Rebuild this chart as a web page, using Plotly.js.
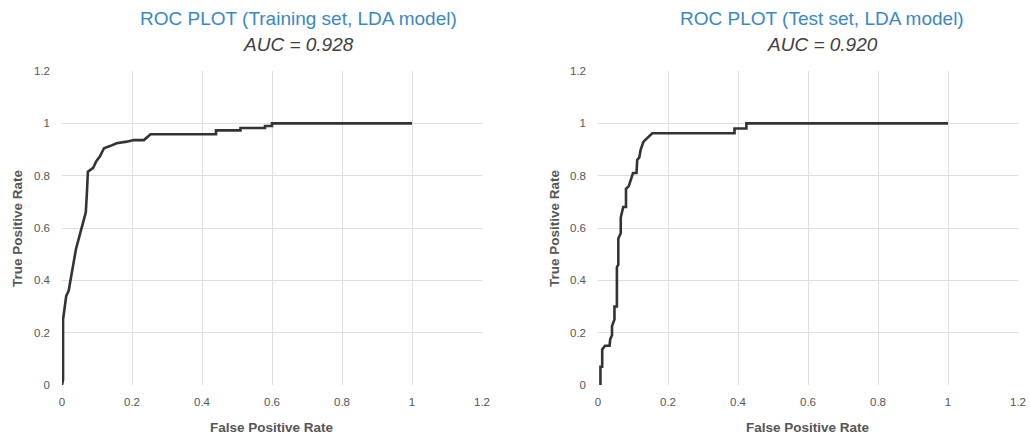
<!DOCTYPE html>
<html>
<head>
<meta charset="utf-8">
<script src="https://cdn.plot.ly/plotly-3.0.1.min.js"></script>
<style>html,body{margin:0;padding:0;background:#fff;}#chart{width:1030px;height:434px;}</style>
</head>
<body>
<div id="chart"></div>
<script>
// Training set ROC (LDA model)
const trainFPR = [0, 0.003, 0.003, 0.012, 0.019, 0.026, 0.033, 0.04, 0.05, 0.06, 0.068, 0.071, 0.074, 0.089, 0.098, 0.108, 0.12, 0.137, 0.156, 0.185, 0.205, 0.234, 0.253, 0.44, 0.44, 0.51, 0.51, 0.58, 0.58, 0.60, 0.60, 1.0];
const trainTPR = [0, 0.02, 0.25, 0.34, 0.36, 0.415, 0.47, 0.52, 0.57, 0.62, 0.66, 0.73, 0.815, 0.83, 0.855, 0.873, 0.905, 0.913, 0.924, 0.93, 0.936, 0.936, 0.958, 0.958, 0.973, 0.973, 0.982, 0.982, 0.99, 0.99, 1.0, 1.0];
// Test set ROC (LDA model)
const testFPR = [0.007, 0.007, 0.012, 0.012, 0.02, 0.033, 0.035, 0.04, 0.04, 0.047, 0.047, 0.054, 0.054, 0.058, 0.058, 0.065, 0.065, 0.072, 0.08, 0.08, 0.088, 0.092, 0.1, 0.11, 0.112, 0.118, 0.122, 0.13, 0.137, 0.155, 0.39, 0.39, 0.424, 0.424, 1.0];
const testTPR = [0, 0.07, 0.07, 0.136, 0.15, 0.15, 0.175, 0.19, 0.225, 0.25, 0.30, 0.30, 0.45, 0.46, 0.56, 0.58, 0.64, 0.68, 0.68, 0.75, 0.76, 0.78, 0.81, 0.81, 0.86, 0.87, 0.90, 0.93, 0.94, 0.962, 0.962, 0.98, 0.98, 1.0, 1.0];
const tickVals = [0, 0.2, 0.4, 0.6, 0.8, 1, 1.2];
const tickText = ['0', '0.2', '0.4', '0.6', '0.8', '1', '1.2'];
const titles = ['ROC PLOT (Training set, LDA model)', 'ROC PLOT (Test set, LDA model)'];
const aucLabels = ['AUC = 0.928', 'AUC = 0.920'];
const xTitle = 'False Positive Rate';
const yTitle = 'True Positive Rate';

const lineStyle = {color: '#333333', width: 2.6};
const traces = [
  {x: trainFPR, y: trainTPR, type: 'scatter', mode: 'lines', line: lineStyle, xaxis: 'x', yaxis: 'y', hoverinfo: 'x+y'},
  {x: testFPR, y: testTPR, type: 'scatter', mode: 'lines', line: lineStyle, xaxis: 'x2', yaxis: 'y2', hoverinfo: 'x+y'}
];

const tickFont = {family: 'Liberation Sans, Arial, sans-serif', size: 11.5, color: '#555555'};
function xax(domain, anchor) {
  return {domain: domain, anchor: anchor, range: [0, 1.2], tickvals: tickVals, ticktext: tickText,
    showgrid: true, gridcolor: '#dedede', gridwidth: 1, zeroline: false, showline: false,
    ticks: '', tickfont: tickFont, ticklabelstandoff: 8, fixedrange: true};
}
function yax(domain, anchor) {
  return {domain: domain, anchor: anchor, range: [0, 1.2], tickvals: tickVals, ticktext: tickText,
    showgrid: true, gridcolor: '#dedede', gridwidth: 1, zeroline: false, showline: false,
    ticks: '', tickfont: tickFont, ticklabelstandoff: 11, fixedrange: true};
}
const W = 1030, H = 434;
const yDom = [1 - 385 / H, 1 - 71 / H];
const x1Dom = [62 / W, 482 / W];
const x2Dom = [598 / W, 1018 / W];

const titleFont = {family: 'Liberation Sans, Arial, sans-serif', size: 19, color: '#3a87c8'};
const aucFont = {family: 'Liberation Sans, Arial, sans-serif', size: 19, color: '#404040'};
const axTitleFont = {family: 'Liberation Sans, Arial, sans-serif', size: 13.5, color: '#555555'};
const annotations = [];
const titleCx = [298 / W, 822 / W];
for (let i = 0; i < 2; i++) {
  annotations.push({text: titles[i], xref: 'paper', yref: 'paper', x: titleCx[i], y: 1 - 19 / H, xanchor: 'center', yanchor: 'middle', showarrow: false, font: titleFont});
  annotations.push({text: '<i>' + aucLabels[i] + '</i>', xref: 'paper', yref: 'paper', x: titleCx[i], y: 1 - 44 / H, xanchor: 'center', yanchor: 'middle', showarrow: false, font: aucFont});
}
annotations.push({text: '<b>' + xTitle + '</b>', xref: 'paper', yref: 'paper', x: 272 / W, y: 1 - 427 / H, xanchor: 'center', yanchor: 'middle', showarrow: false, font: axTitleFont});
annotations.push({text: '<b>' + xTitle + '</b>', xref: 'paper', yref: 'paper', x: 808 / W, y: 1 - 427 / H, xanchor: 'center', yanchor: 'middle', showarrow: false, font: axTitleFont});
annotations.push({text: '<b>' + yTitle + '</b>', xref: 'paper', yref: 'paper', x: 18 / W, y: 1 - 228 / H, xanchor: 'center', yanchor: 'middle', textangle: -90, showarrow: false, font: axTitleFont});
annotations.push({text: '<b>' + yTitle + '</b>', xref: 'paper', yref: 'paper', x: 555 / W, y: 1 - 228 / H, xanchor: 'center', yanchor: 'middle', textangle: -90, showarrow: false, font: axTitleFont});

const layout = {
  width: W, height: H,
  margin: {l: 0, r: 0, t: 0, b: 0},
  paper_bgcolor: '#ffffff', plot_bgcolor: '#ffffff',
  showlegend: false,
  xaxis: xax(x1Dom, 'y'), yaxis: yax(yDom, 'x'),
  xaxis2: xax(x2Dom, 'y2'), yaxis2: yax(yDom, 'x2'),
  annotations: annotations
};
Plotly.newPlot('chart', traces, layout, {displayModeBar: false, staticPlot: true});
</script>
</body>
</html>
